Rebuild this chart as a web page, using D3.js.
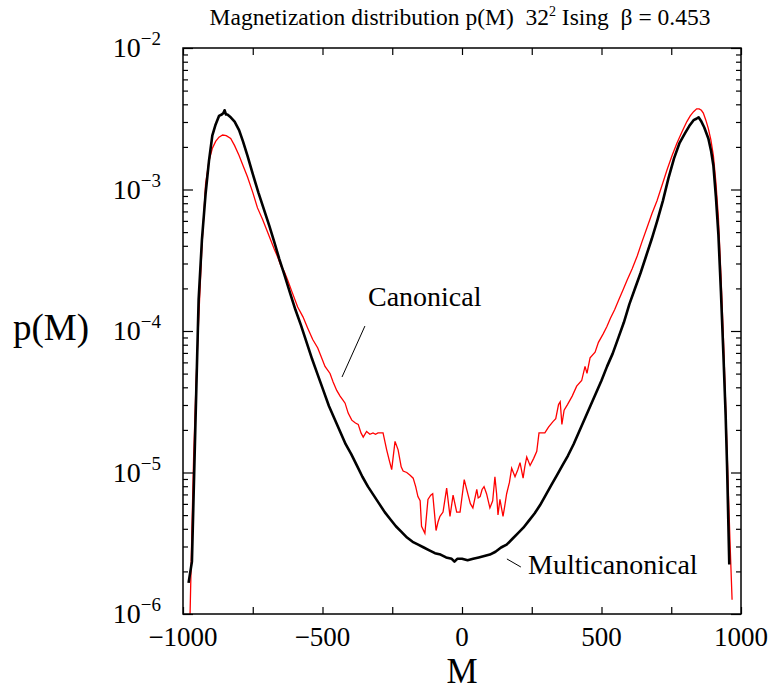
<!DOCTYPE html>
<html lang="en">
<head>
<meta charset="utf-8">
<script src="https://d3js.org/d3.v7.min.js"></script>
<style>
  body { margin: 0; background: #fff; }
  svg text { font-family: "Liberation Serif", "Times New Roman", serif; fill: #000; }
</style>
</head>
<body>
<div id="chart"></div>
<script>
// data: M and log10 p(M)
var multiM = [-980,-968,-956,-944,-932,-919,-907,-895,-883,-871,-861,-855,-851,-846,-841,-829,-815,-799,-785,-769,-750,-730,
  -710,-690,-673,-655,-637,-615,-597,-577,-557,-537,-517,-497,-477,-457,-437,-417,-397,-377,-357,-337,
  -317,-297,-277,-257,-237,-217,-197,-177,-157,-137,-117,-97,-77,-57,-37,-27,-17,0,20,40,
  60,80,100,120,140,160,180,200,220,240,260,280,300,320,340,360,380,400,420,440,
  460,480,500,520,540,560,580,600,620,640,660,680,700,720,740,760,780,800,815,830,
  840,848,858,868,883,893,901,910,919,928,937,945,950,958];
var multiLogP = [-5.78,-5.63,-4.70,-3.78,-3.35,-3.03,-2.80,-2.62,-2.54,-2.48,-2.47,-2.46,-2.44,-2.47,-2.47,-2.49,-2.52,-2.58,-2.66,-2.76,-2.89,-3.02,
  -3.14,-3.26,-3.37,-3.49,-3.60,-3.74,-3.85,-3.96,-4.08,-4.20,-4.31,-4.42,-4.53,-4.62,-4.71,-4.80,-4.87,-4.95,-5.03,-5.10,
  -5.16,-5.22,-5.28,-5.33,-5.38,-5.42,-5.46,-5.49,-5.51,-5.53,-5.55,-5.57,-5.58,-5.60,-5.61,-5.63,-5.61,-5.61,-5.62,-5.61,
  -5.60,-5.59,-5.58,-5.56,-5.53,-5.51,-5.47,-5.43,-5.39,-5.34,-5.29,-5.23,-5.16,-5.09,-5.02,-4.95,-4.88,-4.80,-4.71,-4.62,
  -4.53,-4.44,-4.35,-4.25,-4.16,-4.05,-3.94,-3.81,-3.70,-3.59,-3.47,-3.35,-3.22,-3.08,-2.92,-2.78,-2.67,-2.60,-2.55,-2.51,
  -2.50,-2.49,-2.52,-2.56,-2.64,-2.73,-2.83,-3.05,-3.32,-3.72,-4.17,-4.60,-4.95,-5.65];

var canonM = [-975,-968,-962,-953,-944,-932,-919,-907,-895,-883,-871,-858,-845,-829,-815,-799,-785,-769,-750,-733,
  -715,-697,-673,-660,-649,-637,-625,-610,-589,-570,-553,-535,-517,-505,-491,-473,-462,-449,-437,-426,
  -419,-408,-395,-382,-372,-362,-354,-342,-330,-319,-310,-301,-283,-270,-260,-252,-240,-229,-218,-211,
  -198,-186,-175,-166,-158,-150,-145,-133,-122,-112,-105,-93,-86,-79,-68,-55,-43,-32,-19,-7,
  8,22,30,39,53,58,65,72,79,88,100,110,118,124,129,136,147,153,160,170,
  178,190,200,208,219,225,232,244,257,268,276,287,297,310,326,336,346,352,358,366,
  378,395,411,429,441,448,459,477,489,506,519,532,547,562,577,592,610,628,645,663,
  681,699,717,735,753,771,789,806,818,830,841,850,858,865,874,883,892,901,910,919,
  928,937,943,949,955,961,968];
var canonLogP = [-6.03,-5.40,-4.90,-4.35,-3.93,-3.40,-2.96,-2.80,-2.71,-2.66,-2.63,-2.615,-2.62,-2.64,-2.69,-2.76,-2.83,-2.91,-3.02,-3.13,
  -3.21,-3.30,-3.42,-3.48,-3.54,-3.58,-3.64,-3.72,-3.83,-3.90,-3.98,-4.06,-4.12,-4.18,-4.25,-4.30,-4.36,-4.42,-4.46,-4.49,
  -4.51,-4.58,-4.63,-4.65,-4.66,-4.72,-4.75,-4.71,-4.73,-4.72,-4.73,-4.72,-4.72,-4.84,-4.92,-4.98,-4.78,-4.84,-4.96,-4.99,
  -5.00,-5.02,-5.04,-5.10,-5.17,-5.20,-5.38,-5.43,-5.19,-5.16,-5.15,-5.41,-5.35,-5.31,-5.28,-5.11,-5.31,-5.16,-5.28,-5.28,
  -5.05,-5.16,-5.22,-5.25,-5.12,-5.18,-5.17,-5.12,-5.10,-5.15,-5.25,-5.20,-5.03,-5.15,-5.30,-5.19,-5.31,-5.24,-5.15,-5.07,
  -4.97,-5.03,-4.98,-4.93,-5.04,-4.96,-4.89,-4.95,-4.90,-4.85,-4.72,-4.72,-4.72,-4.68,-4.64,-4.62,-4.52,-4.50,-4.66,-4.56,
  -4.52,-4.46,-4.39,-4.35,-4.25,-4.30,-4.19,-4.15,-4.08,-4.02,-3.97,-3.91,-3.85,-3.78,-3.71,-3.64,-3.56,-3.47,-3.37,-3.27,
  -3.17,-3.08,-2.97,-2.86,-2.76,-2.67,-2.59,-2.52,-2.48,-2.45,-2.43,-2.43,-2.44,-2.46,-2.51,-2.57,-2.65,-2.76,-2.95,-3.20,
  -3.60,-4.05,-4.40,-4.78,-5.15,-5.51,-5.90];

var xTicks = [-1000, -750, -500, -250, 0, 250, 500, 750, 1000];
var xLabels = [-1000, -500, 0, 500, 1000];
var yMajor = [1e-6, 1e-5, 1e-4, 1e-3, 1e-2];
var yExp = ["\u22126", "\u22125", "\u22124", "\u22123", "\u22122"];

var width = 773, height = 690;
var plotL = 183, plotR = 741, plotT = 48, plotB = 614;

var svg = d3.select("#chart").append("svg")
    .attr("width", width)
    .attr("height", height);

var x = d3.scaleLinear().domain([-1000, 1000]).range([plotL, plotR]);
var y = d3.scaleLog().domain([1e-6, 1e-2]).range([plotB, plotT]);

// minor ticks 2..9 in each decade
var yMinor = [];
yMajor.slice(0, 4).forEach(function(d) {
    for (var k = 2; k <= 9; k++) yMinor.push(d * k);
});

function pts(ms, lp) {
    return ms.map(function(m, i) { return { m: m, p: Math.pow(10, lp[i]) }; });
}

svg.append("clipPath").attr("id", "plot-area")
    .append("rect")
    .attr("x", plotL).attr("y", plotT)
    .attr("width", plotR - plotL).attr("height", plotB - plotT);

var line = d3.line()
    .x(function(d) { return x(d.m); })
    .y(function(d) { return y(d.p); });

// canonical (red, thin)
svg.append("path")
    .datum(pts(canonM, canonLogP))
    .attr("clip-path", "url(#plot-area)")
    .attr("fill", "none")
    .attr("stroke", "#ff0000")
    .attr("stroke-width", 1.3)
    .attr("d", line);

// multicanonical (black, thick)
svg.append("path")
    .datum(pts(multiM, multiLogP))
    .attr("clip-path", "url(#plot-area)")
    .attr("fill", "none")
    .attr("stroke", "#000")
    .attr("stroke-width", 2.6)
    .attr("stroke-linejoin", "round")
    .attr("d", line);

// axes, ticks pointing inward
function styleAxis(g) {
    g.select(".domain").remove();
    g.selectAll(".tick line").attr("stroke", "#000").attr("stroke-width", 1.2);
}
svg.append("g").attr("transform", "translate(0," + plotB + ")")
    .call(d3.axisBottom(x).tickValues(xTicks).tickSizeInner(-7).tickSizeOuter(0).tickFormat(""))
    .call(styleAxis);
svg.append("g").attr("transform", "translate(0," + plotT + ")")
    .call(d3.axisTop(x).tickValues(xTicks).tickSizeInner(-7).tickSizeOuter(0).tickFormat(""))
    .call(styleAxis);
svg.append("g").attr("transform", "translate(" + plotL + ",0)")
    .call(d3.axisLeft(y).tickValues(yMajor).tickSizeInner(-10).tickSizeOuter(0).tickFormat(""))
    .call(styleAxis);
svg.append("g").attr("transform", "translate(" + plotL + ",0)")
    .call(d3.axisLeft(y).tickValues(yMinor).tickSizeInner(-5).tickSizeOuter(0).tickFormat(""))
    .call(styleAxis);
svg.append("g").attr("transform", "translate(" + plotR + ",0)")
    .call(d3.axisRight(y).tickValues(yMajor).tickSizeInner(-10).tickSizeOuter(0).tickFormat(""))
    .call(styleAxis);
svg.append("g").attr("transform", "translate(" + plotR + ",0)")
    .call(d3.axisRight(y).tickValues(yMinor).tickSizeInner(-5).tickSizeOuter(0).tickFormat(""))
    .call(styleAxis);

// frame
svg.append("rect")
    .attr("x", plotL).attr("y", plotT)
    .attr("width", plotR - plotL).attr("height", plotB - plotT)
    .attr("fill", "none")
    .attr("stroke", "#000")
    .attr("stroke-width", 1.5);

// x tick labels
svg.selectAll(".xlab").data(xLabels).enter()
    .append("text").attr("class", "xlab")
    .attr("x", function(d) { return x(d); })
    .attr("y", plotB + 32)
    .attr("text-anchor", "middle")
    .attr("font-size", 27)
    .text(function(d) { return d < 0 ? "\u2212" + Math.abs(d) : d; });

// y tick labels 10^n
var ylab = svg.selectAll(".ylab").data(yMajor).enter()
    .append("text").attr("class", "ylab")
    .attr("x", 161)
    .attr("y", function(d) { return y(d) + 9; })
    .attr("text-anchor", "end")
    .attr("font-size", 28);
ylab.append("tspan").text("10");
ylab.append("tspan").attr("dy", -12).attr("font-size", 19)
    .text(function(d, i) { return yExp[i]; });

// axis titles
svg.append("text")
    .attr("x", (plotL + plotR) / 2).attr("y", 683)
    .attr("text-anchor", "middle")
    .attr("font-size", 35)
    .text("M");
svg.append("text")
    .attr("x", 51).attr("y", 340)
    .attr("text-anchor", "middle")
    .attr("font-size", 37)
    .text("p(M)");

// title
var title = svg.append("text")
    .attr("x", 460).attr("y", 25)
    .attr("text-anchor", "middle")
    .attr("font-size", 23.5);
title.append("tspan").text("Magnetization distribution p(M)\u00a0\u00a032");
title.append("tspan").attr("dy", -9).attr("font-size", 14).text("2");
title.append("tspan").attr("dy", 9).text(" Ising\u00a0\u00a0\u03b2 = 0.453");

// annotations, anchored in data units
var canonLabel = { m: -337, p: Math.pow(10, -3.82) };
var canonLead = [{ m: -348, p: Math.pow(10, -3.965) }, { m: -430, p: Math.pow(10, -4.325) }];
var multiLabel = { m: 237, p: Math.pow(10, -5.717) };
var multiLead = [{ m: 161, p: Math.pow(10, -5.611) }, { m: 211, p: Math.pow(10, -5.668) }];

[canonLead, multiLead].forEach(function(l) {
    svg.append("line")
        .attr("x1", x(l[0].m)).attr("y1", y(l[0].p))
        .attr("x2", x(l[1].m)).attr("y2", y(l[1].p))
        .attr("stroke", "#000").attr("stroke-width", 1);
});
svg.append("text")
    .attr("x", x(canonLabel.m)).attr("y", y(canonLabel.p))
    .attr("font-size", 28)
    .text("Canonical");
svg.append("text")
    .attr("x", x(multiLabel.m)).attr("y", y(multiLabel.p))
    .attr("font-size", 28)
    .text("Multicanonical");
</script>
</body>
</html>
